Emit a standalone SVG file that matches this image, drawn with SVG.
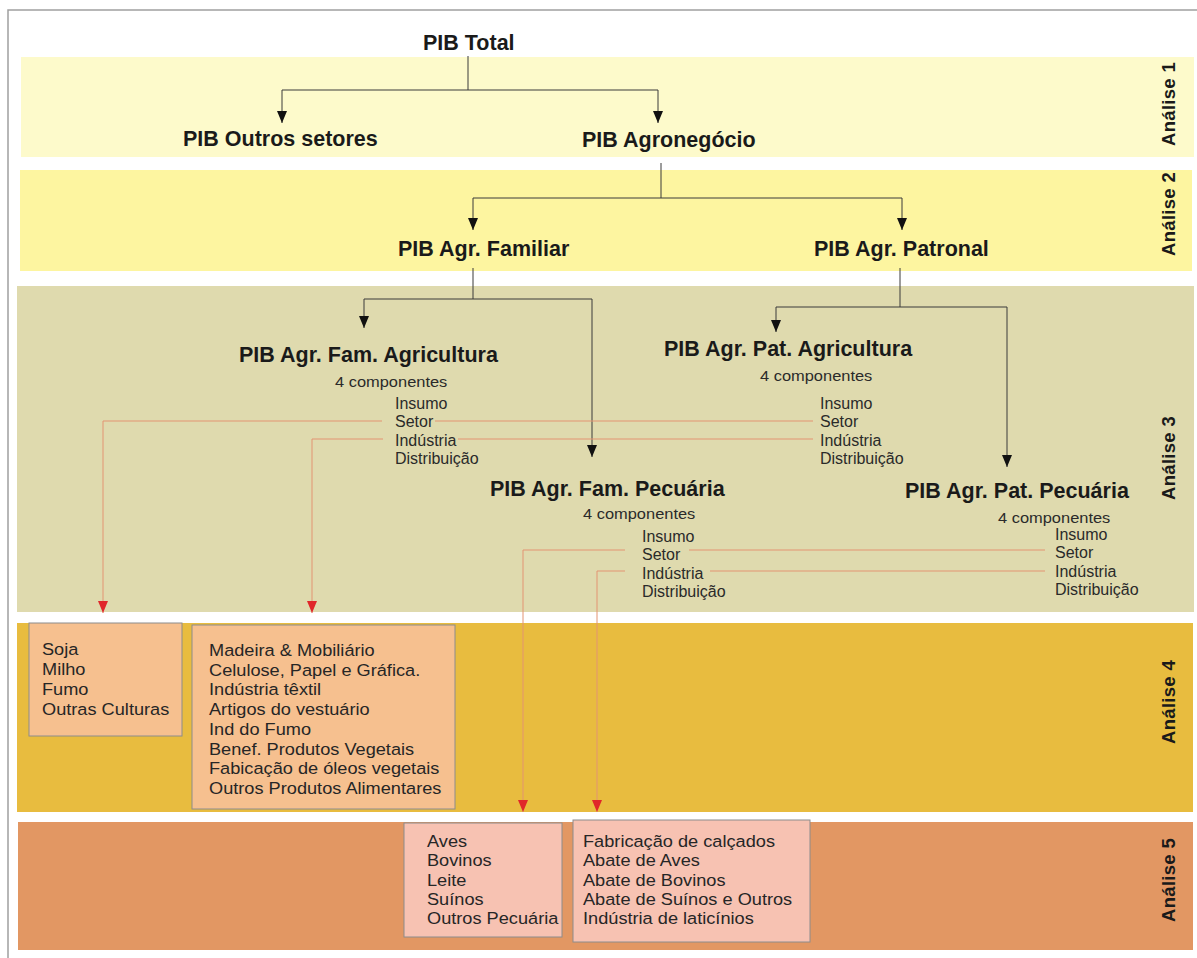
<svg xmlns="http://www.w3.org/2000/svg" width="1197" height="958" viewBox="0 0 1197 958">
<defs>
<style>
.title{font-family:"Liberation Sans",Arial,sans-serif;font-weight:bold;font-size:21.5px;fill:#1a1a1a}
.st{font-family:"Liberation Sans",Arial,sans-serif;font-weight:bold;font-size:21.5px;fill:#1a1a1a}
.comp{font-family:"Liberation Sans",Arial,sans-serif;font-size:15.5px;fill:#2a2a2a}
.item{font-family:"Liberation Sans",Arial,sans-serif;font-size:16px;fill:#2a2a2a}
.box{font-family:"Liberation Sans",Arial,sans-serif;font-size:17px;fill:#262626}
.lbl{font-family:"Liberation Sans",Arial,sans-serif;font-weight:bold;font-size:18.5px;fill:#1a1a1a;text-anchor:middle;letter-spacing:0.3px}
.blk{fill:none;stroke:#3a3a3a;stroke-width:1}
.red{fill:none;stroke:#E39473;stroke-width:1}
.b4{fill:#F6C08F;stroke:#8c8c8c;stroke-width:1}
.b5{fill:#F7C2B2;stroke:#8c8c8c;stroke-width:1}
</style>
<marker id="ab" viewBox="0 0 12 10" refX="12" refY="5" markerWidth="12" markerHeight="10" markerUnits="userSpaceOnUse" orient="auto">
<path d="M0,0 L12,5 L0,10 Z" fill="#111"/>
</marker>
<marker id="ar" viewBox="0 0 12 10" refX="12" refY="5" markerWidth="12" markerHeight="10" markerUnits="userSpaceOnUse" orient="auto">
<path d="M0,0 L12,5 L0,10 Z" fill="#E0262A"/>
</marker>
</defs>
<rect x="0" y="0" width="1197" height="958" fill="#ffffff"/>
<path d="M8,958 L8,10 L1197,10" fill="none" stroke="#a0a0a0" stroke-width="1.5"/>

<g id="bands">
<rect x="21" y="57" width="1173" height="100" fill="#FDFACB"/>
<rect x="20" y="170" width="1172" height="101" fill="#FDF5A0"/>
<rect x="17" y="286" width="1177" height="326" fill="#DFDAAE"/>
<rect x="17" y="623" width="1176" height="189" fill="#E8BC3F"/>
<rect x="18" y="822" width="1175" height="128" fill="#E29763"/>
</g>

<g id="labels">
<text class="lbl" transform="translate(1175,104) rotate(-90)">Análise 1</text>
<text class="lbl" transform="translate(1175,214) rotate(-90)">Análise 2</text>
<text class="lbl" transform="translate(1175,458) rotate(-90)">Análise 3</text>
<text class="lbl" transform="translate(1175,702) rotate(-90)">Análise 4</text>
<text class="lbl" transform="translate(1175,880) rotate(-90)">Análise 5</text>
</g>

<g id="connectors">
<path class="blk" d="M468,56 L468,90 M282,90 L658,90"/>
<path class="blk" d="M282,90 L282,123" marker-end="url(#ab)"/>
<path class="blk" d="M658,90 L658,123" marker-end="url(#ab)"/>
<path class="blk" d="M661,163 L661,198 M473,198 L902,198"/>
<path class="blk" d="M473,198 L473,230" marker-end="url(#ab)"/>
<path class="blk" d="M902,198 L902,230" marker-end="url(#ab)"/>
<path class="blk" d="M473,268 L473,299 M364,299 L592,299"/>
<path class="blk" d="M364,299 L364,328" marker-end="url(#ab)"/>
<path class="blk" d="M592,299 L592,457" marker-end="url(#ab)"/>
<path class="blk" d="M900,268 L900,307 M776,307 L1007,307"/>
<path class="blk" d="M776,307 L776,332" marker-end="url(#ab)"/>
<path class="blk" d="M1007,307 L1007,467" marker-end="url(#ab)"/>
<path class="red" d="M382,421 L103,421 L103,613" marker-end="url(#ar)"/>
<path class="red" d="M435,421 L813,421"/>
<path class="red" d="M383,439 L312,439 L312,613" marker-end="url(#ar)"/>
<path class="red" d="M458,439 L813,439"/>
<path class="red" d="M625,550 L523,550 L523,812" marker-end="url(#ar)"/>
<path class="red" d="M689,550 L1045,550"/>
<path class="red" d="M625,571 L597,571 L597,812" marker-end="url(#ar)"/>
<path class="red" d="M710,571 L1045,571"/>
</g>

<g id="pib-total"><text class="title" x="423" y="50">PIB Total</text></g>
<g id="pib-outros"><text class="title" x="183" y="146">PIB Outros setores</text></g>
<g id="pib-agro"><text class="title" x="582" y="147">PIB Agronegócio</text></g>
<g id="pib-familiar"><text class="title" x="398" y="256">PIB Agr. Familiar</text></g>
<g id="pib-patronal"><text class="title" x="814" y="256">PIB Agr. Patronal</text></g>

<g id="fam-agr">
<text class="st" x="239" y="362">PIB Agr. Fam. Agricultura</text>
<text class="comp" transform="translate(335,387) scale(1.06,1)">4 componentes</text>
<text class="item" x="395" y="408.5">Insumo</text>
<text class="item" x="395" y="427">Setor</text>
<text class="item" x="395" y="445.5">Indústria</text>
<text class="item" x="395" y="464">Distribuição</text>
</g>

<g id="pat-agr">
<text class="st" x="664" y="356">PIB Agr. Pat. Agricultura</text>
<text class="comp" transform="translate(760,381) scale(1.06,1)">4 componentes</text>
<text class="item" x="820" y="408.5">Insumo</text>
<text class="item" x="820" y="427">Setor</text>
<text class="item" x="820" y="445.5">Indústria</text>
<text class="item" x="820" y="464">Distribuição</text>
</g>

<g id="fam-pec">
<text class="st" x="490" y="496">PIB Agr. Fam. Pecuária</text>
<text class="comp" transform="translate(583,519) scale(1.06,1)">4 componentes</text>
<text class="item" x="642" y="541.5">Insumo</text>
<text class="item" x="642" y="560">Setor</text>
<text class="item" x="642" y="578.5">Indústria</text>
<text class="item" x="642" y="597">Distribuição</text>
</g>

<g id="pat-pec">
<text class="st" x="905" y="498">PIB Agr. Pat. Pecuária</text>
<text class="comp" transform="translate(998,523) scale(1.06,1)">4 componentes</text>
<text class="item" x="1055" y="539.5">Insumo</text>
<text class="item" x="1055" y="558">Setor</text>
<text class="item" x="1055" y="576.5">Indústria</text>
<text class="item" x="1055" y="595">Distribuição</text>
</g>

<g id="box-culturas">
<rect class="b4" x="29" y="623" width="153" height="113"/>
<g transform="translate(42,0) scale(1.07,1)">
<text class="box" x="0" y="655.5">Soja</text>
<text class="box" x="0" y="675.3">Milho</text>
<text class="box" x="0" y="695">Fumo</text>
<text class="box" x="0" y="714.8">Outras Culturas</text>
</g>
</g>

<g id="box-industria-agr">
<rect class="b4" x="192" y="625" width="263" height="184"/>
<g transform="translate(209,0) scale(1.07,1)">
<text class="box" x="0" y="656">Madeira &amp; Mobiliário</text>
<text class="box" x="0" y="675.75">Celulose, Papel e Gráfica.</text>
<text class="box" x="0" y="695.5">Indústria têxtil</text>
<text class="box" x="0" y="715.25">Artigos do vestuário</text>
<text class="box" x="0" y="735">Ind do Fumo</text>
<text class="box" x="0" y="754.75">Benef. Produtos Vegetais</text>
<text class="box" x="0" y="774.5">Fabicação de óleos vegetais</text>
<text class="box" x="0" y="794.25">Outros Produtos Alimentares</text>
</g>
</g>

<g id="box-pecuaria">
<rect class="b5" x="404" y="823" width="158" height="114"/>
<g transform="translate(427,0) scale(1.07,1)">
<text class="box" x="0" y="847">Aves</text>
<text class="box" x="0" y="866.3">Bovinos</text>
<text class="box" x="0" y="885.6">Leite</text>
<text class="box" x="0" y="904.9">Suínos</text>
<text class="box" x="0" y="924.2">Outros Pecuária</text>
</g>
</g>

<g id="box-industria-pec">
<rect class="b5" x="573" y="820" width="237" height="122"/>
<g transform="translate(583,0) scale(1.07,1)">
<text class="box" x="0" y="847">Fabricação de calçados</text>
<text class="box" x="0" y="866.3">Abate de Aves</text>
<text class="box" x="0" y="885.6">Abate de Bovinos</text>
<text class="box" x="0" y="904.9">Abate de Suínos e Outros</text>
<text class="box" x="0" y="924.2">Indústria de laticínios</text>
</g>
</g>
</svg>
